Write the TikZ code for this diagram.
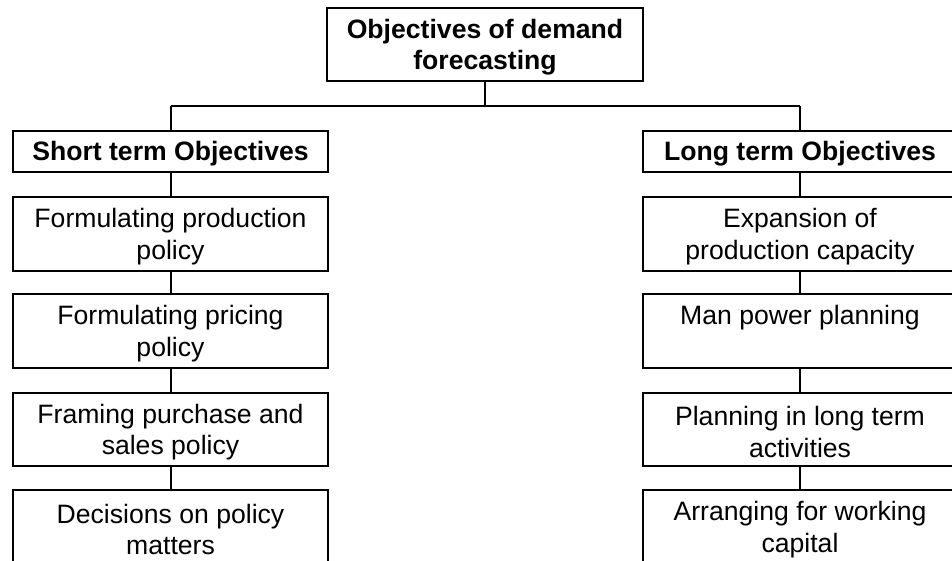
\documentclass[tikz,border=0pt]{standalone}
\usepackage{fontspec}
\setmainfont{Liberation Sans}
\begin{document}
\begin{tikzpicture}[x=1pt,y=-1pt,
  box/.style={draw=black, line width=2pt, inner sep=0pt,
    minimum width=315pt, minimum height=74pt},
  head/.style={box, minimum height=41pt},
  txt/.style={inner sep=0pt, align=center, font=\fontsize{26.6}{31.5}\selectfont},
  btxt/.style={txt, font=\fontsize{26.6}{31.5}\selectfont\bfseries},
  link/.style={draw=black, line width=2pt}]
\useasboundingbox (0,0) rectangle (952,561);
\clip (0,0) rectangle (952,561);
\fill[white] (0,0) rectangle (952,561);
% boxes
\node[box, minimum width=316pt, minimum height=73pt] (top) at (485,44.5) {};
\node[head] (short) at (170.5,151.5) {};
\node[head] (long) at (800,151.5) {};
\node[box] (l1) at (170.5,234) {};
\node[box] (l2) at (170.5,331) {};
\node[box, minimum height=73pt] (l3) at (170.5,429.5) {};
\node[box] (l4) at (170.5,527) {};
\node[box] (r1) at (800,234) {};
\node[box] (r2) at (800,331) {};
\node[box, minimum height=73pt] (r3) at (800,429.5) {};
\node[box] (r4) at (800,527) {};
% texts
\node[btxt] (ttop) at ([yshift=-2.5pt]top.center) {Objectives of demand\\forecasting};
\node[btxt] (tshort) at ([yshift=-2.5pt]short.center) {Short term Objectives};
\node[btxt] (tlong) at ([yshift=-2.5pt]long.center) {Long term Objectives};
\node[txt] (tl1) at ([yshift=-2.5pt]l1.center) {Formulating production\\policy};
\node[txt] (tl2) at ([yshift=-2.5pt]l2.center) {Formulating pricing\\policy};
\node[txt] (tl3) at ([yshift=-2.5pt]l3.center) {Framing purchase and\\sales policy};
\node[txt] (tl4) at ([yshift=-2.5pt]l4.center) {Decisions on policy\\matters};
\node[txt] (tr1) at ([yshift=-2.5pt]r1.center) {Expansion of\\production capacity};
\node[txt] (tr2) at ([yshift=-2.5pt]r2.center) {Man power planning\\\vphantom{p}};
\node[txt] (tr3) at ([yshift=-2.5pt]r3.center) {Planning in long term\\activities};
\node[txt] (tr4) at ([yshift=-2.5pt]r4.center) {Arranging for working\\capital};
% connectors
\coordinate (j) at (485,106);
\coordinate (jl) at (170.5,106);
\coordinate (jr) at (800,106);
\draw[link] (top.south) -- (j);
\draw[link] (jl) -- (jr);
\draw[link] (jl) -- (short.north);
\draw[link] (jr) -- (long.north);
\draw[link] (short.south) -- (l1.north);
\draw[link] (l1.south) -- (l2.north);
\draw[link] (l2.south) -- (l3.north);
\draw[link] (l3.south) -- (l4.north);
\draw[link] (long.south) -- (r1.north);
\draw[link] (r1.south) -- (r2.north);
\draw[link] (r2.south) -- (r3.north);
\draw[link] (r3.south) -- (r4.north);
\end{tikzpicture}
\end{document}
